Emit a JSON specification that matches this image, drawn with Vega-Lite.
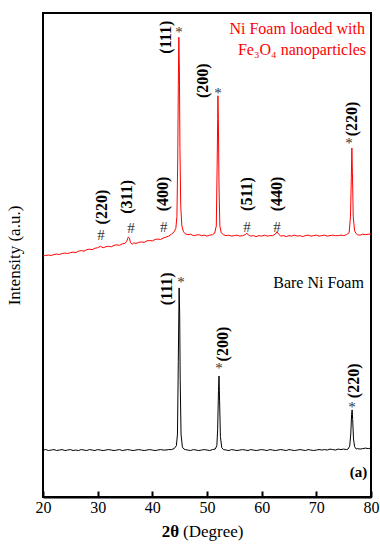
{
  "$schema": "https://vega.github.io/schema/vega-lite/v6.json",
  "width": 328,
  "height": 484,
  "autosize": "none",
  "padding": {"left": 43, "top": 13, "right": 9, "bottom": 49},
  "config": {
    "font": "Liberation Serif, Times New Roman, serif",
    "view": {"stroke": "black", "strokeWidth": 2},
    "axis": {"grid": false}
  },
  "datasets": {
    "spectrum": [
      {"t": 20.0, "i": 49.8, "s": "Fe"}, {"t": 20.5, "i": 49.9, "s": "Fe"}, {"t": 21.0, "i": 50.0, "s": "Fe"}, {"t": 21.5, "i": 49.9, "s": "Fe"},
      {"t": 22.0, "i": 50.1, "s": "Fe"}, {"t": 22.5, "i": 50.2, "s": "Fe"}, {"t": 23.0, "i": 50.1, "s": "Fe"}, {"t": 23.5, "i": 50.3, "s": "Fe"},
      {"t": 24.0, "i": 50.4, "s": "Fe"}, {"t": 24.5, "i": 50.3, "s": "Fe"}, {"t": 25.0, "i": 50.5, "s": "Fe"}, {"t": 25.5, "i": 50.6, "s": "Fe"},
      {"t": 26.0, "i": 50.5, "s": "Fe"}, {"t": 26.5, "i": 50.8, "s": "Fe"}, {"t": 27.0, "i": 50.9, "s": "Fe"}, {"t": 27.5, "i": 50.8, "s": "Fe"},
      {"t": 28.0, "i": 51.1, "s": "Fe"}, {"t": 28.5, "i": 51.2, "s": "Fe"}, {"t": 29.0, "i": 51.1, "s": "Fe"}, {"t": 29.5, "i": 51.4, "s": "Fe"},
      {"t": 30.0, "i": 51.5, "s": "Fe"}, {"t": 30.5, "i": 51.8, "s": "Fe"}, {"t": 31.0, "i": 51.5, "s": "Fe"}, {"t": 31.5, "i": 51.7, "s": "Fe"},
      {"t": 32.0, "i": 51.8, "s": "Fe"}, {"t": 32.5, "i": 51.7, "s": "Fe"}, {"t": 33.0, "i": 52.0, "s": "Fe"}, {"t": 33.5, "i": 52.1, "s": "Fe"},
      {"t": 34.0, "i": 52.0, "s": "Fe"}, {"t": 34.5, "i": 52.3, "s": "Fe"}, {"t": 35.0, "i": 52.4, "s": "Fe"}, {"t": 35.3, "i": 52.8, "s": "Fe"},
      {"t": 35.6, "i": 53.7, "s": "Fe"}, {"t": 35.8, "i": 53.5, "s": "Fe"}, {"t": 36.0, "i": 52.6, "s": "Fe"}, {"t": 36.3, "i": 52.2, "s": "Fe"},
      {"t": 36.6, "i": 52.5, "s": "Fe"}, {"t": 37.0, "i": 52.4, "s": "Fe"}, {"t": 37.5, "i": 52.6, "s": "Fe"}, {"t": 38.0, "i": 52.7, "s": "Fe"},
      {"t": 38.5, "i": 52.6, "s": "Fe"}, {"t": 39.0, "i": 52.9, "s": "Fe"}, {"t": 39.5, "i": 53.0, "s": "Fe"}, {"t": 40.0, "i": 52.9, "s": "Fe"},
      {"t": 40.5, "i": 53.2, "s": "Fe"}, {"t": 41.0, "i": 53.3, "s": "Fe"}, {"t": 41.5, "i": 53.2, "s": "Fe"}, {"t": 42.0, "i": 53.5, "s": "Fe"},
      {"t": 42.5, "i": 53.7, "s": "Fe"}, {"t": 43.0, "i": 53.9, "s": "Fe"}, {"t": 43.5, "i": 54.3, "s": "Fe"}, {"t": 44.0, "i": 54.8, "s": "Fe"},
      {"t": 44.3, "i": 55.5, "s": "Fe"}, {"t": 44.5, "i": 58.0, "s": "Fe"}, {"t": 44.65, "i": 70.0, "s": "Fe"}, {"t": 44.75, "i": 85.0, "s": "Fe"},
      {"t": 44.85, "i": 95.0, "s": "Fe"}, {"t": 44.95, "i": 88.0, "s": "Fe"}, {"t": 45.05, "i": 72.0, "s": "Fe"}, {"t": 45.2, "i": 60.0, "s": "Fe"},
      {"t": 45.4, "i": 56.0, "s": "Fe"}, {"t": 45.7, "i": 54.8, "s": "Fe"}, {"t": 46.0, "i": 54.4, "s": "Fe"}, {"t": 46.5, "i": 54.2, "s": "Fe"},
      {"t": 47.0, "i": 54.3, "s": "Fe"}, {"t": 47.5, "i": 54.0, "s": "Fe"}, {"t": 48.0, "i": 54.1, "s": "Fe"}, {"t": 48.5, "i": 54.2, "s": "Fe"},
      {"t": 49.0, "i": 54.0, "s": "Fe"}, {"t": 49.5, "i": 54.1, "s": "Fe"}, {"t": 50.0, "i": 53.9, "s": "Fe"}, {"t": 50.5, "i": 54.1, "s": "Fe"},
      {"t": 51.0, "i": 54.2, "s": "Fe"}, {"t": 51.4, "i": 54.5, "s": "Fe"}, {"t": 51.7, "i": 56.0, "s": "Fe"}, {"t": 51.85, "i": 68.0, "s": "Fe"},
      {"t": 51.95, "i": 78.0, "s": "Fe"}, {"t": 52.0, "i": 82.9, "s": "Fe"}, {"t": 52.1, "i": 76.0, "s": "Fe"}, {"t": 52.2, "i": 64.0, "s": "Fe"},
      {"t": 52.35, "i": 56.0, "s": "Fe"}, {"t": 52.6, "i": 54.6, "s": "Fe"}, {"t": 53.0, "i": 54.2, "s": "Fe"}, {"t": 53.5, "i": 54.0, "s": "Fe"},
      {"t": 54.0, "i": 54.1, "s": "Fe"}, {"t": 54.5, "i": 53.9, "s": "Fe"}, {"t": 55.0, "i": 54.0, "s": "Fe"}, {"t": 55.5, "i": 54.1, "s": "Fe"},
      {"t": 56.0, "i": 53.9, "s": "Fe"}, {"t": 56.5, "i": 54.0, "s": "Fe"}, {"t": 57.0, "i": 54.2, "s": "Fe"}, {"t": 57.3, "i": 54.5, "s": "Fe"},
      {"t": 57.6, "i": 54.1, "s": "Fe"}, {"t": 58.0, "i": 53.9, "s": "Fe"}, {"t": 58.5, "i": 54.0, "s": "Fe"}, {"t": 59.0, "i": 53.8, "s": "Fe"},
      {"t": 59.5, "i": 54.0, "s": "Fe"}, {"t": 60.0, "i": 53.9, "s": "Fe"}, {"t": 60.5, "i": 54.1, "s": "Fe"}, {"t": 61.0, "i": 53.9, "s": "Fe"},
      {"t": 61.5, "i": 54.0, "s": "Fe"}, {"t": 62.0, "i": 54.0, "s": "Fe"}, {"t": 62.5, "i": 54.3, "s": "Fe"}, {"t": 62.8, "i": 54.8, "s": "Fe"},
      {"t": 63.1, "i": 54.3, "s": "Fe"}, {"t": 63.5, "i": 53.9, "s": "Fe"}, {"t": 64.0, "i": 54.0, "s": "Fe"}, {"t": 64.5, "i": 53.8, "s": "Fe"},
      {"t": 65.0, "i": 54.0, "s": "Fe"}, {"t": 65.5, "i": 53.9, "s": "Fe"}, {"t": 66.0, "i": 54.1, "s": "Fe"}, {"t": 66.5, "i": 53.9, "s": "Fe"},
      {"t": 67.0, "i": 54.0, "s": "Fe"}, {"t": 67.5, "i": 53.8, "s": "Fe"}, {"t": 68.0, "i": 54.0, "s": "Fe"}, {"t": 68.5, "i": 54.1, "s": "Fe"},
      {"t": 69.0, "i": 53.9, "s": "Fe"}, {"t": 69.5, "i": 54.0, "s": "Fe"}, {"t": 70.0, "i": 54.1, "s": "Fe"}, {"t": 70.5, "i": 53.9, "s": "Fe"},
      {"t": 71.0, "i": 54.0, "s": "Fe"}, {"t": 71.5, "i": 54.1, "s": "Fe"}, {"t": 72.0, "i": 53.9, "s": "Fe"}, {"t": 72.5, "i": 54.0, "s": "Fe"},
      {"t": 73.0, "i": 54.1, "s": "Fe"}, {"t": 73.5, "i": 54.0, "s": "Fe"}, {"t": 74.0, "i": 54.0, "s": "Fe"}, {"t": 74.5, "i": 54.1, "s": "Fe"},
      {"t": 75.0, "i": 54.0, "s": "Fe"}, {"t": 75.5, "i": 54.2, "s": "Fe"}, {"t": 76.0, "i": 54.6, "s": "Fe"}, {"t": 76.25, "i": 58.0, "s": "Fe"},
      {"t": 76.4, "i": 66.0, "s": "Fe"}, {"t": 76.5, "i": 72.1, "s": "Fe"}, {"t": 76.6, "i": 67.0, "s": "Fe"}, {"t": 76.75, "i": 58.0, "s": "Fe"},
      {"t": 77.0, "i": 55.0, "s": "Fe"}, {"t": 77.3, "i": 54.4, "s": "Fe"}, {"t": 77.5, "i": 54.2, "s": "Fe"}, {"t": 78.0, "i": 54.1, "s": "Fe"},
      {"t": 78.5, "i": 54.3, "s": "Fe"}, {"t": 79.0, "i": 54.2, "s": "Fe"}, {"t": 79.5, "i": 54.3, "s": "Fe"}, {"t": 80.0, "i": 54.3, "s": "Fe"},

      {"t": 20.0, "i": 9.7, "s": "Ni"}, {"t": 20.5, "i": 9.8, "s": "Ni"}, {"t": 21.0, "i": 9.6, "s": "Ni"}, {"t": 21.5, "i": 9.7, "s": "Ni"},
      {"t": 22.0, "i": 9.8, "s": "Ni"}, {"t": 22.5, "i": 9.6, "s": "Ni"}, {"t": 23.0, "i": 9.7, "s": "Ni"}, {"t": 23.5, "i": 9.8, "s": "Ni"},
      {"t": 24.0, "i": 9.6, "s": "Ni"}, {"t": 24.5, "i": 9.7, "s": "Ni"}, {"t": 25.0, "i": 9.8, "s": "Ni"}, {"t": 25.5, "i": 9.6, "s": "Ni"},
      {"t": 26.0, "i": 9.7, "s": "Ni"}, {"t": 26.5, "i": 9.6, "s": "Ni"}, {"t": 27.0, "i": 9.8, "s": "Ni"}, {"t": 27.5, "i": 9.7, "s": "Ni"},
      {"t": 28.0, "i": 9.6, "s": "Ni"}, {"t": 28.5, "i": 9.8, "s": "Ni"}, {"t": 29.0, "i": 9.7, "s": "Ni"}, {"t": 29.5, "i": 9.6, "s": "Ni"},
      {"t": 30.0, "i": 9.8, "s": "Ni"}, {"t": 30.5, "i": 9.7, "s": "Ni"}, {"t": 31.0, "i": 9.6, "s": "Ni"}, {"t": 31.5, "i": 9.7, "s": "Ni"},
      {"t": 32.0, "i": 9.8, "s": "Ni"}, {"t": 32.5, "i": 9.7, "s": "Ni"}, {"t": 33.0, "i": 9.6, "s": "Ni"}, {"t": 33.5, "i": 9.7, "s": "Ni"},
      {"t": 34.0, "i": 9.8, "s": "Ni"}, {"t": 34.5, "i": 9.6, "s": "Ni"}, {"t": 35.0, "i": 9.7, "s": "Ni"}, {"t": 35.5, "i": 9.8, "s": "Ni"},
      {"t": 36.0, "i": 9.7, "s": "Ni"}, {"t": 36.5, "i": 9.6, "s": "Ni"}, {"t": 37.0, "i": 9.7, "s": "Ni"}, {"t": 37.5, "i": 9.8, "s": "Ni"},
      {"t": 38.0, "i": 9.7, "s": "Ni"}, {"t": 38.5, "i": 9.6, "s": "Ni"}, {"t": 39.0, "i": 9.7, "s": "Ni"}, {"t": 39.5, "i": 9.8, "s": "Ni"},
      {"t": 40.0, "i": 9.7, "s": "Ni"}, {"t": 40.5, "i": 9.6, "s": "Ni"}, {"t": 41.0, "i": 9.7, "s": "Ni"}, {"t": 41.5, "i": 9.8, "s": "Ni"},
      {"t": 42.0, "i": 9.7, "s": "Ni"}, {"t": 42.5, "i": 9.7, "s": "Ni"}, {"t": 43.0, "i": 9.8, "s": "Ni"}, {"t": 43.5, "i": 9.8, "s": "Ni"},
      {"t": 44.0, "i": 10.0, "s": "Ni"}, {"t": 44.4, "i": 10.6, "s": "Ni"}, {"t": 44.6, "i": 13.0, "s": "Ni"}, {"t": 44.75, "i": 28.0, "s": "Ni"},
      {"t": 44.9, "i": 43.2, "s": "Ni"}, {"t": 45.0, "i": 38.0, "s": "Ni"}, {"t": 45.1, "i": 24.0, "s": "Ni"}, {"t": 45.25, "i": 13.0, "s": "Ni"},
      {"t": 45.5, "i": 10.3, "s": "Ni"}, {"t": 45.8, "i": 9.9, "s": "Ni"}, {"t": 46.0, "i": 9.8, "s": "Ni"}, {"t": 46.5, "i": 9.7, "s": "Ni"},
      {"t": 47.0, "i": 9.6, "s": "Ni"}, {"t": 47.5, "i": 9.8, "s": "Ni"}, {"t": 48.0, "i": 9.7, "s": "Ni"}, {"t": 48.5, "i": 9.6, "s": "Ni"},
      {"t": 49.0, "i": 9.7, "s": "Ni"}, {"t": 49.5, "i": 9.8, "s": "Ni"}, {"t": 50.0, "i": 9.7, "s": "Ni"}, {"t": 50.5, "i": 9.6, "s": "Ni"},
      {"t": 51.0, "i": 9.8, "s": "Ni"}, {"t": 51.5, "i": 9.9, "s": "Ni"}, {"t": 51.8, "i": 10.6, "s": "Ni"}, {"t": 51.95, "i": 14.0, "s": "Ni"},
      {"t": 52.1, "i": 22.0, "s": "Ni"}, {"t": 52.2, "i": 25.0, "s": "Ni"}, {"t": 52.3, "i": 20.0, "s": "Ni"}, {"t": 52.45, "i": 12.5, "s": "Ni"},
      {"t": 52.7, "i": 10.2, "s": "Ni"}, {"t": 53.0, "i": 9.8, "s": "Ni"}, {"t": 53.5, "i": 9.7, "s": "Ni"}, {"t": 54.0, "i": 9.6, "s": "Ni"},
      {"t": 54.5, "i": 9.8, "s": "Ni"}, {"t": 55.0, "i": 9.7, "s": "Ni"}, {"t": 55.5, "i": 9.6, "s": "Ni"}, {"t": 56.0, "i": 9.7, "s": "Ni"},
      {"t": 56.5, "i": 9.8, "s": "Ni"}, {"t": 57.0, "i": 9.7, "s": "Ni"}, {"t": 57.5, "i": 9.6, "s": "Ni"}, {"t": 58.0, "i": 9.8, "s": "Ni"},
      {"t": 58.5, "i": 9.7, "s": "Ni"}, {"t": 59.0, "i": 9.6, "s": "Ni"}, {"t": 59.5, "i": 9.7, "s": "Ni"}, {"t": 60.0, "i": 9.8, "s": "Ni"},
      {"t": 60.5, "i": 9.7, "s": "Ni"}, {"t": 61.0, "i": 9.6, "s": "Ni"}, {"t": 61.5, "i": 9.8, "s": "Ni"}, {"t": 62.0, "i": 9.7, "s": "Ni"},
      {"t": 62.5, "i": 9.6, "s": "Ni"}, {"t": 63.0, "i": 9.7, "s": "Ni"}, {"t": 63.5, "i": 9.8, "s": "Ni"}, {"t": 64.0, "i": 9.7, "s": "Ni"},
      {"t": 64.5, "i": 9.6, "s": "Ni"}, {"t": 65.0, "i": 9.8, "s": "Ni"}, {"t": 65.5, "i": 9.7, "s": "Ni"}, {"t": 66.0, "i": 9.6, "s": "Ni"},
      {"t": 66.5, "i": 9.7, "s": "Ni"}, {"t": 67.0, "i": 9.8, "s": "Ni"}, {"t": 67.5, "i": 9.7, "s": "Ni"}, {"t": 68.0, "i": 9.6, "s": "Ni"},
      {"t": 68.5, "i": 9.8, "s": "Ni"}, {"t": 69.0, "i": 9.7, "s": "Ni"}, {"t": 69.5, "i": 9.6, "s": "Ni"}, {"t": 70.0, "i": 9.7, "s": "Ni"},
      {"t": 70.5, "i": 9.8, "s": "Ni"}, {"t": 71.0, "i": 9.7, "s": "Ni"}, {"t": 71.5, "i": 9.8, "s": "Ni"}, {"t": 72.0, "i": 9.7, "s": "Ni"},
      {"t": 72.5, "i": 9.9, "s": "Ni"}, {"t": 73.0, "i": 9.8, "s": "Ni"}, {"t": 73.5, "i": 9.7, "s": "Ni"}, {"t": 74.0, "i": 9.9, "s": "Ni"},
      {"t": 74.5, "i": 9.8, "s": "Ni"}, {"t": 75.0, "i": 9.9, "s": "Ni"}, {"t": 75.5, "i": 9.8, "s": "Ni"}, {"t": 75.8, "i": 9.9, "s": "Ni"},
      {"t": 76.1, "i": 10.5, "s": "Ni"}, {"t": 76.3, "i": 13.0, "s": "Ni"}, {"t": 76.45, "i": 17.0, "s": "Ni"}, {"t": 76.55, "i": 18.0, "s": "Ni"},
      {"t": 76.65, "i": 16.0, "s": "Ni"}, {"t": 76.8, "i": 12.0, "s": "Ni"}, {"t": 77.0, "i": 10.4, "s": "Ni"}, {"t": 77.3, "i": 9.9, "s": "Ni"},
      {"t": 77.5, "i": 10.0, "s": "Ni"}, {"t": 78.0, "i": 9.9, "s": "Ni"}, {"t": 78.5, "i": 10.0, "s": "Ni"}, {"t": 79.0, "i": 10.1, "s": "Ni"},
      {"t": 79.5, "i": 10.0, "s": "Ni"}, {"t": 80.0, "i": 10.1, "s": "Ni"}
    ],
    "hkl": [
      {"t": 42.5, "i": 95.0, "label": "(111)"},
      {"t": 49.27, "i": 86.0, "label": "(200)"},
      {"t": 76.52, "i": 78.1, "label": "(220)"},
      {"t": 30.8, "i": 59.9, "label": "(220)"},
      {"t": 35.4, "i": 62.0, "label": "(311)"},
      {"t": 41.95, "i": 62.6, "label": "(400)"},
      {"t": 57.3, "i": 62.6, "label": "(511)"},
      {"t": 62.8, "i": 62.6, "label": "(440)"},
      {"t": 42.68, "i": 43.0, "label": "(111)"},
      {"t": 52.93, "i": 31.6, "label": "(200)"},
      {"t": 76.9, "i": 24.0, "label": "(220)"}
    ],
    "marks": [
      {"t": 44.88, "i": 96.1, "m": "*"},
      {"t": 52.0, "i": 83.5, "m": "*"},
      {"t": 75.97, "i": 73.1, "m": "*"},
      {"t": 45.24, "i": 44.4, "m": "*"},
      {"t": 52.19, "i": 26.7, "m": "*"},
      {"t": 76.52, "i": 18.6, "m": "*"},
      {"t": 30.6, "i": 54.1, "m": "#"},
      {"t": 36.1, "i": 55.6, "m": "#"},
      {"t": 42.1, "i": 55.8, "m": "#"},
      {"t": 57.3, "i": 55.8, "m": "#"},
      {"t": 62.8, "i": 55.8, "m": "#"}
    ],
    "names": [
      {"t": 78.9, "i": 96.7, "name": "Ni Foam loaded with", "c": "red"},
      {"t": 79.08, "i": 92.4, "name": "Fe₃O₄ nanoparticles", "c": "red"},
      {"t": 78.7, "i": 44.2, "name": "Bare Ni Foam", "c": "black"}
    ]
  },
  "layer": [
    {
      "data": {"name": "spectrum"},
      "mark": {"type": "line", "strokeWidth": 1, "interpolate": "linear"},
      "encoding": {
        "x": {
          "field": "t", "type": "quantitative",
          "scale": {"domain": [20, 80], "nice": false},
          "axis": {
            "title": null,
            "values": [20, 25, 30, 35, 40, 45, 50, 55, 60, 65, 70, 75, 80],
            "labelExpr": "datum.value % 10 === 0 ? datum.label : ''",
            "labelFontSize": 16, "labelColor": "black", "labelPadding": 8,
            "labelFlush": false,
            "tickSize": {"condition": {"test": "datum.value % 10 === 0", "value": -6}, "value": -3},
            "tickWidth": 2, "tickColor": "black",
            "domainWidth": 2, "domainColor": "black"
          }
        },
        "y": {
          "field": "i", "type": "quantitative",
          "scale": {"domain": [0, 100], "nice": false},
          "axis": {
            "title": "Intensity (a.u.)",
            "titleFontSize": 17, "titleFontWeight": "normal", "titleColor": "black",
            "titlePadding": 20,
            "labels": false, "ticks": false, "domain": false
          }
        },
        "color": {
          "field": "s", "type": "nominal",
          "scale": {"domain": ["Fe", "Ni"], "range": ["#ff0000", "#000000"]},
          "legend": null
        },
        "detail": {"field": "s"}
      }
    },
    {
      "data": {"name": "hkl"},
      "mark": {"type": "text", "angle": 270, "align": "center", "baseline": "middle", "fontSize": 16, "fontWeight": "bold", "color": "black"},
      "encoding": {
        "x": {"field": "t", "type": "quantitative"},
        "y": {"field": "i", "type": "quantitative"},
        "text": {"field": "label"}
      }
    },
    {
      "data": {"name": "marks"},
      "mark": {"type": "text", "align": "center", "baseline": "middle", "fontSize": 15, "color": "#333333"},
      "encoding": {
        "x": {"field": "t", "type": "quantitative"},
        "y": {"field": "i", "type": "quantitative"},
        "text": {"field": "m"}
      }
    },
    {
      "data": {"name": "names"},
      "mark": {"type": "text", "align": "right", "baseline": "middle", "fontSize": 16},
      "encoding": {
        "x": {"field": "t", "type": "quantitative"},
        "y": {"field": "i", "type": "quantitative"},
        "text": {"field": "name"},
        "color": {"field": "c", "type": "nominal", "scale": null}
      }
    },
    {
      "data": {"values": [{"t": 79.3, "i": 5.2, "name": "(a)"}]},
      "mark": {"type": "text", "align": "right", "baseline": "middle", "fontSize": 15, "fontWeight": "bold", "color": "black"},
      "encoding": {
        "x": {"field": "t", "type": "quantitative"},
        "y": {"field": "i", "type": "quantitative"},
        "text": {"field": "name"}
      }
    },
    {
      "data": {"values": [{"t": 44.88, "i": -7.2, "part": "2θ"}]},
      "mark": {"type": "text", "align": "right", "baseline": "middle", "fontSize": 17, "fontWeight": "bold", "color": "black"},
      "encoding": {
        "x": {"field": "t", "type": "quantitative"},
        "y": {"field": "i", "type": "quantitative"},
        "text": {"field": "part"}
      }
    },
    {
      "data": {"values": [{"t": 45.61, "i": -7.2, "part": "(Degree)"}]},
      "mark": {"type": "text", "align": "left", "baseline": "middle", "fontSize": 17, "fontWeight": "normal", "color": "black"},
      "encoding": {
        "x": {"field": "t", "type": "quantitative"},
        "y": {"field": "i", "type": "quantitative"},
        "text": {"field": "part"}
      }
    }
  ]
}
